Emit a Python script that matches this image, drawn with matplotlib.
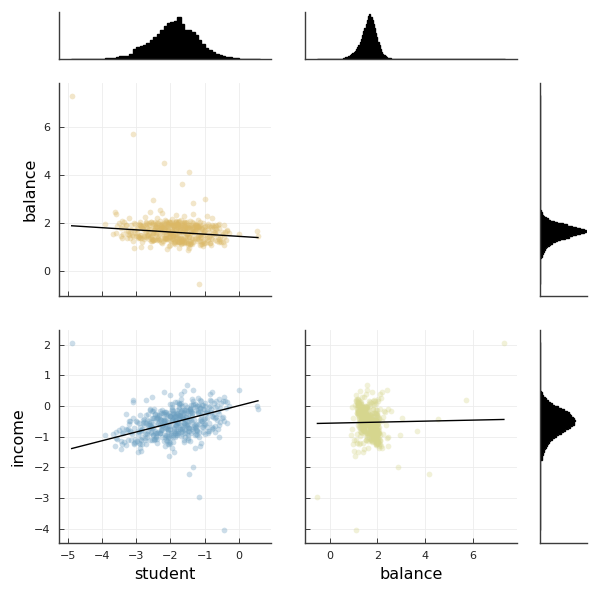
import numpy as np
import matplotlib
matplotlib.use("Agg")
import matplotlib.pyplot as plt

# ---------------- data (read/estimated from the reference) ----------------
student = [
    -1.85, -2.31, -1.42, -2.05, -1.67, -2.78, -1.12, -1.93, -2.44, -1.58,
    -2.12, -0.95, -1.76, -2.63, -1.38, -2.01, -1.81, -3.02, -1.29, -1.71,
    -2.25, -1.49, -1.97, -0.78, -2.36, -1.63, -2.89, -1.88, -1.21, -2.17,
    -1.54, -2.52, -1.79, -1.05, -2.08, -1.36, -2.71, -1.95, -1.47, -2.29,
    -0.62, -1.83, -2.41, -1.69, -3.18, -1.26, -2.03, -1.74, -2.56, -1.15,
    -1.91, -2.19, -1.33, -2.85, -1.61, -0.88, -2.11, -1.77, -2.47, -1.52,
    -2.66, -1.41, -1.99, -1.09, -2.33, -1.86, -3.31, -1.57, -2.14, -0.99,
    -1.73, -2.27, -1.45, -2.92, -1.82, -1.19, -2.06, -2.58, -1.65, -0.71,
    -2.39, -1.89, -1.31, -2.74, -1.56, -2.21, -1.02, -1.94, -2.49, -1.78,
    -1.24, -3.06, -1.68, -2.15, -0.83, -1.87, -2.61, -1.39, -2.02, -1.62,
    -2.82, -1.51, -1.96, -1.13, -2.35, -1.75, -0.55, -2.09, -1.44, -2.53,
    -1.84, -2.97, -1.27, -2.18, -1.59, -0.92, -2.43, -1.72, -3.45, -1.35,
    -2.07, -1.64, -2.69, -1.17, -1.92, -2.26, -0.68, -1.81, -2.51, -1.48,
    -1.98, -2.37, -1.07, -2.79, -1.55, -2.13, -1.83, -3.12, -1.32, -0.86,
    -2.23, -1.66, -2.55, -1.22, -1.90, -2.42, -1.50, -0.74, -2.04, -1.70,
    -2.94, -1.37, -2.16, -1.80, -1.03, -2.62, -1.60, -2.30, -0.47, -1.95,
    -1.43, -2.46, -1.76, -3.24, -1.28, -2.00, -1.53, -2.68, -0.97, -1.88,
    -2.20, -1.18, -2.87, -1.69, -2.10, -0.81, -1.58, -2.34, -1.40, -3.38,
    -1.79, -2.58, -1.11, -2.06, -1.63, -2.76, -0.65, -1.93, -2.24, -1.46,
    -2.99, -1.34, -1.86, -2.48, -1.20, -2.12, -0.89, -1.74, -2.65, -1.55,
    -1.97, -0.58, -2.28, -1.67, -3.55, -1.08, -2.40, -1.85, -1.30, -2.83,
    -1.62, -2.19, -0.77, -2.57, -1.49, -2.01, -1.25, -2.91, -1.71, -0.38,
    -2.32, -1.78, -1.14, -2.72, -1.57, -2.08, -0.94, -1.90, -2.50, -1.36,
    -3.15, -1.64, -2.17, -1.01, -1.83, -2.44, -0.69, -1.52, -2.27, -1.92,
    -1.72, -2.64, -1.23, -3.68, -1.44, -2.11, -0.52, -1.99, -2.38, -0.29,
    -2.45, -1.05, -1.88, -3.25, -0.72, -2.10, -1.55, -2.80, -1.30, -1.95,
    -0.55, -2.62, -1.70, -3.40, -1.20, -2.30, -0.90, -1.62, -2.95, -1.45,
    -2.15, -0.42, -1.82, -2.70, -1.10, -3.05, -1.58, -2.25, -0.80, -1.98,
    -3.50, -1.35, -2.05, -0.65, -2.55, -1.75, -1.15, -2.88, -1.92, -0.98,
    -2.38, -1.65, -3.20, -1.25, -0.50, -2.20, -1.80, -2.65, -1.40, -3.35,
    -1.00, -2.50, -1.60, -2.90, -0.85, -2.00, -1.50, -3.00, -1.18, -2.35,
    -0.60, -2.75, -1.72, -1.28, -2.12, -3.15, -0.95, -1.85, -2.48, -1.38,
    -2.02, -1.12, -3.42, -1.68, -0.75, -2.58, -1.48, -2.22, -0.35, -1.78,
    -2.85, -1.22, -1.96, -0.68, -2.42, -1.57, -3.10, -1.02, -2.18, -1.90,
    -1.33, -2.68, -0.88, -2.28, -1.62, -3.28, -1.08, -1.84, -2.52, -0.58,
    -2.08, -1.44, -2.92, -0.78, -1.74, -2.32, -1.16, -3.60, -1.52, -2.00,
    -0.92, -2.40, -1.66, -2.78, -1.26, -0.48, -2.14, -1.82, -3.02, -1.40,
    -2.60, -1.06, -1.94, -2.26, -0.70, -3.18, -1.60, -2.46, -1.14, -1.76,
    -1.48, -2.90, -0.82, -2.04, -1.36, -2.72, -1.88, -0.62, -2.34, -1.24,
    -3.30, -1.70, -2.16, -0.98, -2.54, -1.42, -1.92, -2.84, -0.44, -2.06,
    -2.40, -1.60, -1.95, -2.75, -1.20, -2.10, -1.45, -2.60, -1.05, -3.05,
    -1.85, -2.25, -0.95, -3.20, -1.50, -2.00, -1.70, -2.55, -1.30, -2.20,
    -0.70, -3.30, -0.60, -3.45, -1.15, -2.70, -1.90, -0.85, -2.90, -1.60,
    -1.52, -1.35, -0.45, -2.05, -2.95, -3.40, -3.90, -3.60, -2.60, -1.10,
    -0.80, -0.35, -2.85, -1.75, -2.30, -3.10, -3.62,
    -4.88, -3.09, -2.18, -1.67, -1.46, -1.34, -1.17, -0.43, -2.52, -0.98,
    0.00, 0.53, 0.55,
]
balance = [
    1.44, 1.76, 1.83, 1.56, 1.93, 1.48, 1.60, 1.32, 1.81, 1.60,
    1.85, 1.42, 1.35, 1.77, 1.74, 1.60, 1.97, 1.58, 1.36, 1.71,
    1.56, 1.86, 1.67, 1.35, 1.32, 1.73, 1.93, 1.56, 1.87, 1.40,
    1.78, 1.57, 1.23, 1.61, 1.90, 1.37, 1.65, 2.04, 1.43, 1.78,
    1.44, 1.76, 1.97, 1.32, 1.61, 1.80, 1.44, 1.63, 1.77, 1.24,
    1.89, 1.49, 1.63, 1.89, 1.17, 1.63, 1.40, 1.96, 1.65, 1.79,
    1.46, 1.62, 1.92, 1.20, 1.79, 1.54, 1.91, 1.83, 1.37, 1.49,
    1.69, 1.97, 1.44, 1.42, 1.82, 1.46, 1.67, 2.06, 1.27, 1.65,
    1.47, 1.74, 1.83, 1.64, 1.22, 1.84, 1.63, 1.47, 1.72, 1.91,
    1.72, 1.71, 1.39, 1.98, 1.40, 1.23, 1.91, 1.65, 1.45, 2.04,
    1.81, 1.81, 1.32, 1.41, 1.70, 1.89, 1.41, 1.81, 1.14, 1.52,
    1.36, 1.81, 1.93, 1.64, 1.74, 1.31, 1.56, 1.87, 1.79, 1.75,
    1.97, 1.32, 1.81, 1.77, 1.45, 1.71, 1.75, 1.26, 1.60, 1.59,
    1.59, 1.36, 1.74, 1.77, 1.99, 1.51, 1.75, 1.49, 1.67, 1.17,
    1.90, 1.65, 1.35, 1.37, 1.93, 1.83, 1.19, 1.64, 1.56, 1.37,
    1.74, 1.32, 1.77, 1.50, 1.83, 1.32, 1.79, 1.74, 1.55, 1.48,
    1.26, 1.85, 2.06, 1.69, 1.68, 1.42, 1.56, 1.95, 1.38, 2.00,
    1.79, 1.50, 1.52, 1.82, 1.35, 1.83, 1.67, 1.54, 1.93, 1.55,
    1.84, 1.27, 1.41, 1.74, 1.62, 1.43, 1.68, 1.53, 1.93, 1.94,
    1.58, 1.84, 1.26, 1.71, 1.34, 2.03, 1.43, 1.80, 1.66, 1.41,
    1.69, 1.35, 1.87, 1.28, 1.89, 1.81, 1.59, 2.05, 1.32, 1.87,
    1.21, 1.76, 1.54, 1.47, 1.91, 1.57, 1.71, 1.95, 1.48, 1.29,
    1.94, 1.38, 1.50, 2.04, 1.43, 1.73, 1.23, 1.75, 1.31, 1.78,
    1.73, 1.94, 1.38, 1.68, 1.51, 1.33, 1.55, 1.38, 1.83, 1.87,
    1.75, 1.56, 1.86, 1.54, 1.56, 2.01, 1.21, 1.70, 1.86, 1.58,
    1.92, 1.24, 1.73, 1.53, 1.84, 1.59, 1.31, 1.88, 1.94, 1.39,
    1.27, 2.00, 1.25, 1.89, 1.85, 1.33, 1.77, 1.96, 1.45, 1.79,
    1.33, 1.65, 1.96, 1.44, 1.37, 1.99, 1.22, 1.98, 1.74, 1.27,
    2.01, 1.23, 2.03, 1.27, 1.98, 1.20, 1.92, 1.40, 1.91, 1.71,
    1.28, 2.02, 1.50, 1.88, 1.62, 1.36, 1.96, 1.52, 1.18, 2.03,
    1.90, 1.30, 2.02, 1.93, 1.18, 2.01, 1.17, 1.46, 1.87, 2.00,
    1.20, 1.93, 1.20, 1.98, 1.32, 1.91, 1.89, 2.06, 1.31, 1.14,
    2.03, 1.81, 1.40, 1.18, 1.90, 2.03, 1.82, 1.25, 1.68, 2.03,
    1.38, 1.27, 1.94, 1.88, 1.89, 2.03, 1.45, 1.16, 2.01, 1.18,
    2.01, 1.49, 1.89, 1.23, 1.89, 1.40, 1.14, 2.10, 2.00, 1.80,
    1.95, 1.12, 1.41, 1.92, 1.21, 2.08, 1.83, 1.59, 2.06, 1.29,
    1.95, 1.99, 1.17, 1.33, 1.92, 1.21, 2.10, 1.30, 1.95, 1.20,
    1.42, 2.02, 1.88, 1.17, 1.93, 1.37, 1.79, 2.05, 1.08, 2.10,
    1.09, 1.49, 1.08, 2.06, 2.03, 1.99, 1.12, 1.92, 1.31, 1.93,
    1.94, 1.12, 2.14, 1.16, 1.26, 2.11, 1.98, 1.21, 1.92, 1.93,
    2.22, 2.30, 2.18, 2.25, 2.15, 0.92, 0.98, 1.02, 1.06, 0.98,
    2.35, 2.42, 2.28, 2.20, 0.88, 1.10, 2.12, 1.35, 1.60, 1.75,
    1.30, 1.70, 1.95, 1.45, 2.05, 1.85, 1.20, 1.50, 2.05, 1.25,
    1.55, 2.38, 1.42, 1.05, 1.40, 2.10, 1.95, 2.40, 2.45, 1.15,
    2.20, 1.70, 1.00, 0.95, 2.55, 1.25, 2.46,
    7.30, 5.71, 4.53, 3.64, 4.14, 2.84, -0.52, 1.08, 2.96, 3.01,
    1.55, 1.67, 1.48,
]
income = [
    -0.42, -0.87, -0.10, -0.64, -0.76, -0.63, -0.42, -0.16, -0.86, -0.44,
    -0.94, -0.20, -0.29, -0.61, -0.52, -0.31, -0.56, -1.07, -0.02, -0.74,
    -0.60, -0.80, -0.38, -0.31, -0.40, -0.38, -1.06, -0.86, -0.21, -0.19,
    -0.61, -0.40, -0.54, -0.09, -1.01, -0.33, -0.54, -0.46, -0.70, -0.79,
    -0.15, -0.24, -0.88, -0.84, -0.80, -0.58, -0.21, -0.43, -0.83, -0.16,
    -0.81, -0.50, 0.08, -0.82, -0.61, -0.56, -0.52, -0.28, -0.40, -0.50,
    -0.81, -0.15, -0.87, -0.22, -0.49, -0.99, -0.74, -0.57, -0.57, 0.02,
    -0.30, -0.78, -0.80, -0.55, -0.53, -0.19, -0.83, -0.67, -0.12, -0.40,
    -0.28, -0.72, -0.45, -1.05, -0.21, -0.62, -0.63, -0.43, -1.12, -0.24,
    -0.60, -0.71, -0.15, -0.93, -0.18, -0.33, -0.63, -0.86, -0.32, -0.55,
    -0.73, -0.65, -0.12, -0.07, -0.84, -0.54, -0.05, -0.98, -0.23, -0.38,
    -0.64, -1.13, -0.14, -0.49, -0.78, -0.23, -0.41, -0.33, -1.14, -0.81,
    -0.29, -0.41, -0.91, -0.59, -0.34, -0.72, -0.35, -0.13, -0.57, -0.72,
    -0.93, -0.56, -0.49, -0.54, -0.35, -0.20, -0.62, -0.92, -0.60, -0.01,
    -0.46, -0.92, -0.71, 0.02, -0.75, -1.01, -0.29, -0.26, -0.51, -0.19,
    -0.91, -0.24, -1.02, -0.27, -0.43, -0.55, -0.73, -0.62, -0.35, -0.09,
    -0.13, -0.81, -0.39, -0.74, -0.72, -0.74, -0.04, -1.01, -0.21, -0.57,
    -0.54, -0.01, -1.11, -0.61, -0.35, -0.09, -0.86, -0.32, -0.46, -0.89,
    -0.82, -0.51, -0.30, -0.79, -0.30, -0.41, -0.45, -0.27, -0.78, -0.50,
    -0.52, -0.68, -0.48, -1.06, -0.17, -0.72, -0.03, -0.67, -0.63, -0.13,
    -0.44, -0.26, -0.45, -0.72, -1.08, -0.69, -0.40, -0.87, 0.06, -0.99,
    -0.43, -0.27, -0.36, -0.64, -0.63, -0.33, -0.67, -0.83, -0.31, -0.05,
    -0.89, -0.37, -0.05, -0.86, -0.12, -1.03, -0.38, -0.35, -0.70, -0.75,
    -1.09, -0.21, -0.67, -0.56, -0.44, -0.25, -0.03, -0.58, -0.44, -0.95,
    -0.75, -0.72, -0.78, -0.92, -0.11, -0.69, 0.11, -0.86, -0.88, 0.02,
    -0.26, -0.68, -0.33, -1.09, 0.10, -1.13, -0.37, -0.45, -0.65, -0.02,
    -0.51, -0.48, -0.97, -0.87, 0.05, -0.89, -0.81, -0.14, -0.81, -0.72,
    -0.44, 0.18, -0.93, -0.30, -0.50, -1.20, 0.04, -0.63, -0.67, -0.65,
    -0.77, 0.03, -1.17, 0.01, -1.10, 0.09, -0.45, -0.69, -1.01, 0.10,
    -1.19, -0.34, -0.58, -0.78, -0.39, -0.18, -0.86, -0.25, -0.17, -1.17,
    -0.57, -0.15, -0.56, -1.22, 0.19, -1.20, -0.15, -0.47, -0.84, -0.58,
    0.23, -1.10, 0.06, -0.95, -0.27, -0.83, -0.68, -0.80, -0.10, -0.22,
    -1.03, 0.18, -0.71, 0.11, -0.70, -0.89, -1.03, -0.22, 0.15, -0.88,
    -0.78, -0.81, 0.07, 0.17, -0.98, -1.02, -0.40, -0.08, -1.15, -0.25,
    0.16, -0.46, -0.80, -0.22, -1.11, -0.77, 0.04, -0.93, -0.93, -0.62,
    -1.22, -0.06, -1.20, -0.73, 0.08, -0.41, -1.00, -0.84, -0.86, 0.06,
    -0.87, -1.08, 0.00, -0.51, -0.92, 0.18, -1.10, 0.13, -1.18, 0.04,
    -0.13, -0.83, -1.18, -0.12, -0.66, -0.48, -1.16, -1.06, 0.19, -0.11,
    -1.11, -0.28, 0.16, -1.25, 0.23, -1.23, 0.13, -0.74, -0.30, -0.94,
    -1.26, 0.23, -1.31, -0.90, -0.16, -1.13, -0.21, -1.22, -0.49, -0.75,
    -0.35, -0.20, -1.35, -0.90, 0.25, -0.75, -0.40, -1.10, 0.05, -1.25,
    -0.60, -1.00, -0.15, -0.50, -0.95, 0.35, 0.40, 0.30, -1.35, 0.45,
    -0.85, -0.25, -1.00, -1.40, -1.30, 0.20, -1.50, 0.40, -1.35, 0.50,
    0.68, 0.52, 0.30, -1.62, -1.50, -1.25, -0.95, -1.05, -0.10, -1.20,
    0.45, -0.55, -1.45, -0.02, -0.15, 0.15, -1.30,
    2.05, 0.19, -0.41, -0.81, -2.20, -2.00, -2.97, -4.04, -0.93, -0.40,
    0.51, 0.00, -0.10,
]

# marginal histograms (bin start, bin width, counts)
student_bin_start, student_bin_width = -4.9, 0.1
student_counts = [2, 1, 1, 1, 1, 1, 1, 1, 1,
                  2, 3, 4, 6, 10, 13, 14, 15, 24, 48,
                  58, 62, 68, 76, 92, 106, 120, 142, 160, 175,
                  179, 184, 202, 168, 142, 139, 130, 116, 94, 72,
                  55, 44, 35, 26, 20, 16, 10, 8, 5, 4,
                  2, 1, 1, 1, 1, 2]

balance_range = (-0.55, 7.35)
balance_bin_width = 0.05
balance_core_start = 0.55
balance_core_counts = [8, 12, 16, 20, 24, 28, 32, 40, 48, 56,
                       68, 80, 96, 116, 136, 160, 192, 224, 248, 280,
                       312, 344, 360, 342, 316, 280, 248, 208, 176, 136,
                       112, 80, 60, 44, 32, 24, 16, 12, 8, 5, 3]

income_range = (-4.05, 2.10)
income_bin_width = 0.05
income_core_start = -1.75
income_core_counts = [13, 17, 21, 26, 28, 33, 37, 43, 50, 60,
                      69, 77, 90, 103, 120, 138, 159, 181, 202, 219,
                      241, 258, 280, 292, 295, 305, 290, 284, 272, 262,
                      249, 232, 206, 181, 155, 125, 103, 86, 69, 56,
                      43, 30, 21, 15, 9, 4]

# fitted lines (slope, intercept)
fit_student_balance = (-0.0906, 1.449)
fit_student_income = (0.2867, 0.017)
fit_balance_income = (0.0166, -0.556)

student_ticks = [-5, -4, -3, -2, -1, 0]
balance_ticks = [0, 2, 4, 6]
income_ticks = [-4, -3, -2, -1, 0, 1, 2]

# ---------------- figure ----------------
fig = plt.figure(figsize=(6, 6), dpi=100)
L1, L2, L3 = 59 / 600, 305 / 600, 540 / 600
W, W3 = 212 / 600, 47 / 600
B1, B2, B3 = 1 - 59 / 600, 1 - 296 / 600, 1 - 543 / 600
H1, H = 47 / 600, 213 / 600

ax_h1 = fig.add_axes([L1, B1, W, H1])
ax_h2 = fig.add_axes([L2, B1, W, H1])
ax_sb = fig.add_axes([L1, B2, W, H])
ax_hb = fig.add_axes([L3, B2, W3, H])
ax_si = fig.add_axes([L1, B3, W, H])
ax_bi = fig.add_axes([L2, B3, W, H])
ax_hi = fig.add_axes([L3, B3, W3, H])

SPINE = "#3c3c3c"
XLIM_S = (-5.25, 0.93)
LIM_B = (-1.04, 7.85)
LIM_I = (-4.46, 2.48)


def style(ax):
    for s in ("top", "right"):
        ax.spines[s].set_visible(False)
    for s in ("left", "bottom"):
        ax.spines[s].set_color(SPINE)
        ax.spines[s].set_linewidth(1.0)
    ax.tick_params(direction="in", length=3.5, width=0.7, color=SPINE,
                   labelsize=8, labelcolor="#222222", pad=6)


def full_counts(rng, width, core_start, core):
    n = int(round((rng[1] - rng[0]) / width))
    edges = rng[0] + width * np.arange(n + 1)
    counts = np.zeros(n)
    i0 = int(round((core_start - rng[0]) / width))
    counts[i0:i0 + len(core)] = core
    return edges, counts


def draw_hist(ax, edges, counts, orientation="vertical"):
    ax.stairs(counts, edges, fill=True, color="black",
              orientation=orientation, linewidth=0)
    ax.stairs(counts, edges, fill=False, color="black",
              orientation=orientation, linewidth=1.0, baseline=0)


# top-left: student histogram
s_edges = student_bin_start + student_bin_width * np.arange(len(student_counts) + 1)
draw_hist(ax_h1, s_edges, np.array(student_counts, dtype=float))
ax_h1.set_xlim(*XLIM_S)
ax_h1.set_ylim(0, max(student_counts) / 0.887)

# balance histograms
b_edges, b_counts = full_counts(balance_range, balance_bin_width,
                                balance_core_start, balance_core_counts)
draw_hist(ax_h2, b_edges, b_counts)
ax_h2.set_xlim(*LIM_B)
ax_h2.set_ylim(0, max(balance_core_counts) / 0.95)

draw_hist(ax_hb, b_edges, b_counts, orientation="horizontal")
ax_hb.set_ylim(*LIM_B)
ax_hb.set_xlim(0, max(balance_core_counts) / 0.98)

# income histogram
i_edges, i_counts = full_counts(income_range, income_bin_width,
                                income_core_start, income_core_counts)
draw_hist(ax_hi, i_edges, i_counts, orientation="horizontal")
ax_hi.set_ylim(*LIM_I)
ax_hi.set_xlim(0, max(income_core_counts) / 0.75)

for ax in (ax_h1, ax_h2, ax_hb, ax_hi):
    style(ax)
    ax.set_xticks([])
    ax.set_yticks([])

# scatter panels
st = np.array(student)
ba = np.array(balance)
inc = np.array(income)


def scatter_panel(ax, x, y, color, fit):
    ax.grid(True, color="#ececec", linewidth=0.6)
    ax.set_axisbelow(True)
    ax.scatter(x, y, s=17, c=color, alpha=0.34, linewidths=0, zorder=2)
    xs = np.array([x.min(), x.max()])
    ax.plot(xs, fit[0] * xs + fit[1], color="black", linewidth=1.0, zorder=3)
    style(ax)


scatter_panel(ax_sb, st, ba, "#dbb865", fit_student_balance)
ax_sb.set_xlim(*XLIM_S)
ax_sb.set_ylim(*LIM_B)
ax_sb.set_xticks(student_ticks)
ax_sb.set_xticklabels([])
ax_sb.set_yticks(balance_ticks)
ax_sb.set_ylabel("balance", fontsize=11.5)

scatter_panel(ax_si, st, inc, "#6a9ec0", fit_student_income)
ax_si.set_xlim(*XLIM_S)
ax_si.set_ylim(*LIM_I)
ax_si.set_xticks(student_ticks)
ax_si.set_yticks(income_ticks)
ax_si.set_xlabel("student", fontsize=11.5)
ax_si.set_ylabel("income", fontsize=11.5, labelpad=6)

scatter_panel(ax_bi, ba, inc, "#d6d68e", fit_balance_income)
ax_bi.set_xlim(*LIM_B)
ax_bi.set_ylim(*LIM_I)
ax_bi.set_xticks(balance_ticks)
ax_bi.set_yticks(income_ticks)
ax_bi.set_yticklabels([])
ax_bi.set_xlabel("balance", fontsize=11.5)

fig.savefig("out.png", dpi=100, facecolor="white")
